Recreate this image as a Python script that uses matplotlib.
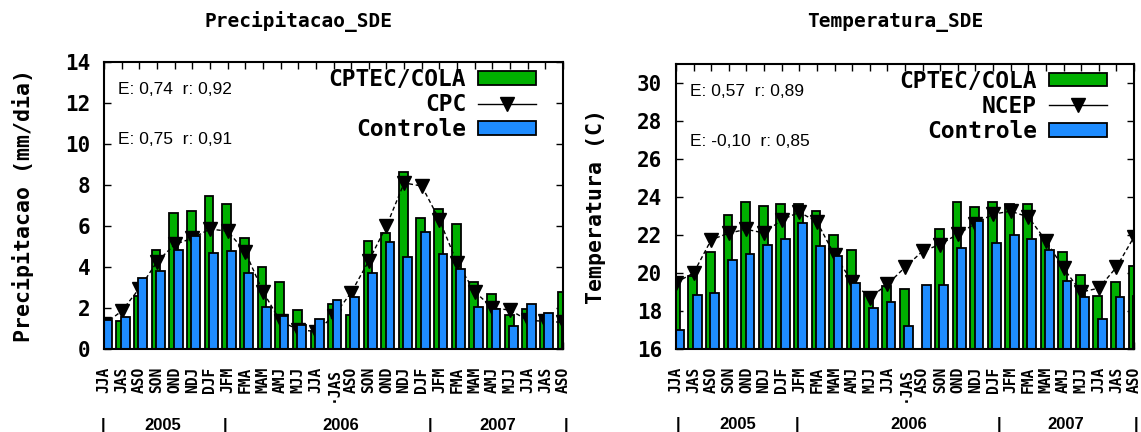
import numpy as np
import matplotlib
matplotlib.use("Agg")
import matplotlib.pyplot as plt
from matplotlib.patches import Patch
from matplotlib.lines import Line2D

# trimestres moveis, jun/2005 a out/2007
meses = ["JJA", "JAS", "ASO", "SON", "OND", "NDJ", "DJF", "JFM", "FMA", "MAM",
         "AMJ", "MJJ", "JJA", "\u00b7JAS", "ASO", "SON", "OND", "NDJ", "DJF", "JFM",
         "FMA", "MAM", "AMJ", "MJJ", "JJA", "JAS", "ASO"]
anos = ["2005", "2006", "2007"]

# precipitacao (mm/dia)
prec_cola = [1.2, 1.35, 2.6, 4.85, 6.65, 6.75, 7.45, 7.05, 5.4, 4.0, 3.25, 1.9, 0.9, 2.2,
             1.65, 5.25, 5.65, 8.65, 6.4, 6.85, 6.1, 3.25, 2.7, 1.65, 1.95, 1.55, 2.8]
prec_cpc = [1.2, 1.85, 2.95, 4.25, 5.1, 5.4, 5.85, 5.75, 4.75, 2.8, 1.35, 0.95, 0.85, 1.6,
            2.75, 4.3, 6.0, 8.1, 7.95, 6.3, 4.2, 2.8, 2.0, 1.9, 1.4, 1.35, 1.3]
prec_ctrl = [1.4, 1.55, 3.45, 3.8, 4.85, 5.5, 4.7, 4.8, 3.7, 2.05, 1.6, 1.15, 1.45, 2.4,
             2.55, 3.7, 5.2, 4.5, 5.7, 4.65, 3.9, 2.05, 1.95, 1.1, 2.2, 1.75, 1.3]

# temperatura (C)
temp_cola = [19.5, 19.85, 21.1, 23.05, 23.75, 23.55, 23.65, 23.65, 23.25, 22.0, 21.2, 18.9,
             19.3, 19.15, np.nan, 22.3, 23.75, 23.45, 23.75, 23.65, 23.65, 22.0, 21.1, 19.9,
             18.8, 19.55, 20.35]
temp_ncep = [19.5, 20.0, 21.75, 22.1, 22.3, 22.1, 22.8, 23.2, 22.7, 20.95, 19.55, 18.7,
             19.4, 20.3, 21.15, 21.5, 22.05, 22.6, 23.1, 23.25, 22.95, 21.7, 20.25, 19.0,
             19.2, 20.3, 21.9]
temp_ctrl = [17.0, 18.85, 18.95, 20.7, 21.0, 21.5, 21.8, 22.65, 21.4, 20.9, 19.45, 18.15,
             18.45, 17.2, 19.35, 19.35, 21.3, 22.75, 21.6, 22.0, 21.8, 21.2, 19.6, 18.75,
             17.6, 18.75, 18.8]

VERDE = "#00b000"
AZUL = "#1e8cff"
MONO = "DejaVu Sans Mono"

W, H = 1141, 432
fig = plt.figure(figsize=(W / 100, H / 100), dpi=100)
ax1 = fig.add_axes([104 / W, (H - 349) / H, 459 / W, 287 / H])
ax2 = fig.add_axes([676 / W, (H - 349) / H, 458 / W, 285 / H])


def painel(ax, cola, obs, ctrl, nome_obs, ylim, yticks, ylabel, stats, ylab_x, anos_x, sep_x):
    x = np.arange(len(meses))
    ax.bar(x - 0.05, cola, width=0.5, color=VERDE, edgecolor="black", linewidth=1.3, zorder=2)
    ax.plot(x, obs, color="black", lw=1, ls=(0, (3, 2)), marker="v", ms=10, zorder=3)
    ax.bar(x + 0.2, ctrl, width=0.5, color=AZUL, edgecolor="black", linewidth=1.3, zorder=4)

    ax.set_xlim(0, len(meses) - 1)
    ax.set_ylim(*ylim)
    ax.set_yticks(yticks)
    ax.set_xticks(x)
    ax.set_xticklabels(meses, rotation=90, va="top", ha="center",
                       family=MONO, weight="bold", fontsize=10.5)
    for lb in ax.get_yticklabels():
        lb.set_family(MONO)
        lb.set_weight("bold")
        lb.set_fontsize(15)
    ax.tick_params(axis="both", direction="in", length=5, width=1, top=True, right=True)
    ax.tick_params(axis="x", pad=13)
    ax.tick_params(axis="y", pad=10)
    for sp in ax.spines.values():
        sp.set_linewidth(1.5)
        sp.set_zorder(6)

    ax.set_ylabel(ylabel, family=MONO, weight="bold", fontsize=15.5)
    ax.yaxis.set_label_coords(ylab_x, 0.5)

    for txt, yy in zip(stats, [0.903, 0.729]):
        ax.text(0.03, yy, txt, transform=ax.transAxes, fontsize=12.5,
                family="Liberation Sans", va="center", ha="left")

    handles = [Patch(facecolor=VERDE, edgecolor="black", linewidth=1.3),
               Line2D([], [], color="black", lw=1, marker="v", ms=10),
               Patch(facecolor=AZUL, edgecolor="black", linewidth=1.3)]
    ax.legend(handles, ["CPTEC/COLA", nome_obs, "Controle"], loc="upper right",
              bbox_to_anchor=(0.941, 0.98), frameon=False, markerfirst=False,
              prop={"family": MONO, "weight": "bold", "size": 16.5},
              handlelength=2.53, handleheight=0.55, handletextpad=0.52,
              labelspacing=0.1, borderpad=0, borderaxespad=0)

    tr = ax.get_xaxis_transform()
    for ano, xa in zip(anos, anos_x):
        ax.text(xa, -0.265, ano, transform=tr, ha="center", va="center",
                family="Liberation Sans", weight="bold", fontsize=12)
    for xs in sep_x:
        ax.text(xs, -0.265, "|", transform=tr, ha="center", va="center",
                family="Liberation Sans", weight="bold", fontsize=12)


painel(ax1, prec_cola, prec_cpc, prec_ctrl, "CPC", (0, 14), np.arange(0, 15, 2),
       "Precipitacao (mm/dia)", ["E: 0,74  r: 0,92", "E: 0,75  r: 0,91"], -0.152,
       [3.3, 13.4, 22.3], [-0.05, 6.85, 18.45, 26.15])
painel(ax2, temp_cola, temp_ncep, temp_ctrl, "NCEP", (16, 31), np.arange(16, 31, 2),
       "Temperatura (C)", ["E: 0,57  r: 0,89", "E: -0,10  r: 0,85"], -0.152,
       [3.5, 13.2, 22.1], [0.1, 6.9, 18.35, 26.1])

fig.text(298 / W, 1 - 22 / H, "Precipitacao_SDE", ha="center", va="center",
         family=MONO, weight="bold", fontsize=14)
fig.text(895 / W, 1 - 22 / H, "Temperatura_SDE", ha="center", va="center",
         family=MONO, weight="bold", fontsize=14)

fig.savefig("out.png", dpi=100)
